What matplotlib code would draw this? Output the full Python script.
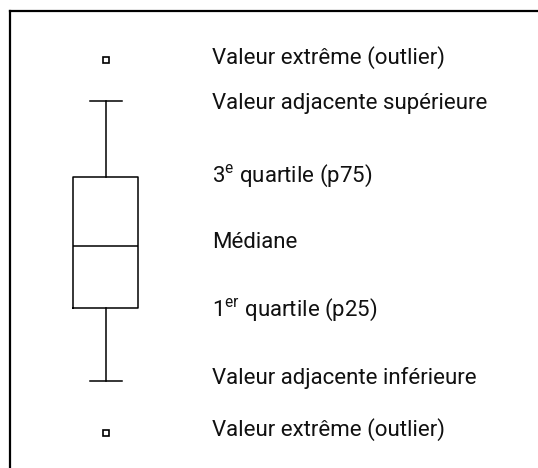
import matplotlib.pyplot as plt

plt.rcParams['font.family'] = ['Roboto', 'DejaVu Sans']
plt.rcParams['mathtext.fontset'] = 'custom'
plt.rcParams['mathtext.rm'] = 'Roboto'

# box stats (figure units, measured from the bottom)
whislo = 87
q1 = 160
med = 222
q3 = 291
whishi = 367
fliers = [35, 408]

labels = [
    "Valeur extrême (outlier)",
    "Valeur adjacente supérieure",
    "3$^{\\rm e}$ quartile (p75)",
    "Médiane",
    "1$^{\\rm er}$ quartile (p25)",
    "Valeur adjacente inférieure",
    "Valeur extrême (outlier)",
]
label_y = [410, 365, 292, 225, 158, 90, 38]

fig = plt.figure(figsize=(5.38, 4.68), dpi=100)
ax = fig.add_axes([9.5 / 538, 0, 1 - 9.5 / 538, 457 / 468])
ax.set_xlim(9.5, 538)
ax.set_ylim(0, 457)

stats = [dict(whislo=whislo, q1=q1, med=med, q3=q3, whishi=whishi, fliers=fliers)]
ax.bxp(stats, positions=[105.5], widths=65, capwidths=32,
       boxprops=dict(color='black', lw=1.1),
       whiskerprops=dict(color='black', lw=1.1),
       capprops=dict(color='black', lw=1.1),
       medianprops=dict(color='black', lw=1.1),
       flierprops=dict(marker='s', markersize=4, markerfacecolor='white',
                       markeredgecolor='black', markeredgewidth=1.2))

for txt, y in zip(labels, label_y):
    ax.text(212, y, txt, fontsize=16, va='center', ha='left', color='#111111')

ax.set_xticks([])
ax.set_yticks([])
ax.spines['right'].set_visible(False)
ax.spines['bottom'].set_visible(False)
ax.spines['top'].set_linewidth(1.6)
ax.spines['left'].set_linewidth(1.6)

fig.savefig('out.png', dpi=100)
